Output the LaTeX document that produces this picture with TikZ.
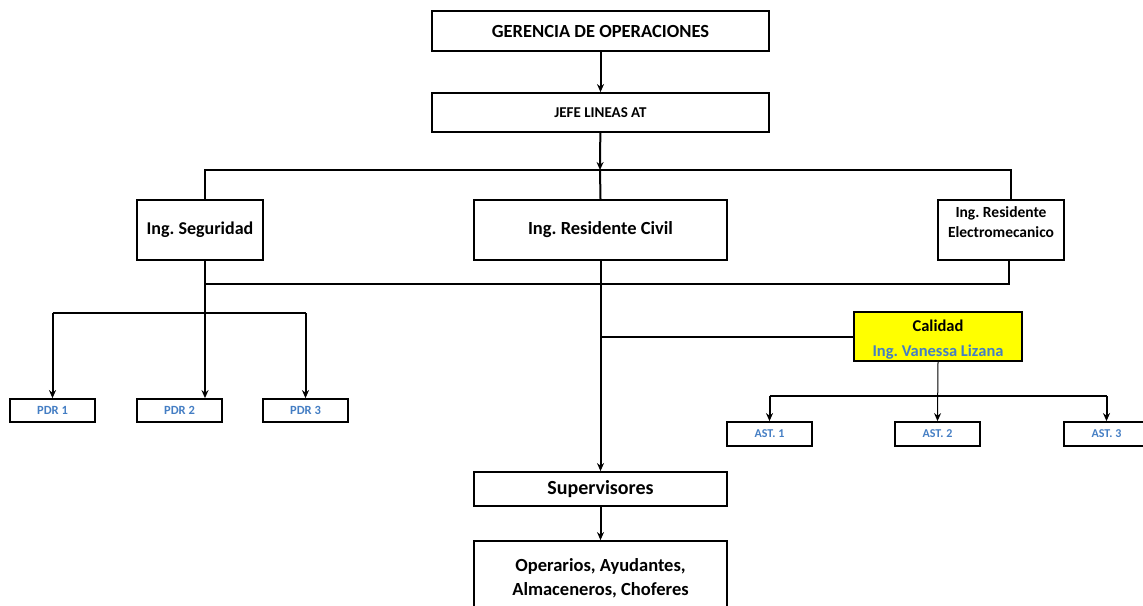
\documentclass[tikz,border=0pt]{standalone}
\usepackage{fontspec}
\setmainfont{Carlito}
\frenchspacing
\usetikzlibrary{arrows.meta}

\definecolor{pdrblue}{RGB}{68,126,196}
\definecolor{calyellow}{RGB}{255,255,0}

\tikzset{
    box/.style={draw, line width=1.8pt, fill=white, inner sep=0pt, align=center, font=\bfseries},
    line/.style={line width=2pt},
    arrow/.style={line width=2pt, -{Stealth[length=8pt,width=7pt]}},
    sz/.style={font=\fontsize{#1}{#1}\selectfont\bfseries}
}

\begin{document}
\begin{tikzpicture}[x=1pt, y=-1pt]

\clip (0,0) rectangle (1143,605);
\useasboundingbox (0,0) rectangle (1143,605);
\fill[white] (0,0) rectangle (1143,605);

% Top
\node[box, sz=18.5, minimum width=337pt, minimum height=40pt] (ger) at (600.5,31) {GERENCIA DE OPERACIONES};
\node[box, sz=15, minimum width=337pt, minimum height=39pt] (jefe) at (600.5,112.5) {JEFE LINEAS AT};

% Second level
\node[box, sz=18, minimum width=126pt, minimum height=60pt] (seg) at (200,230) {Ing. Seguridad};
\node[box, sz=18.5, minimum width=253pt, minimum height=60pt] (civ) at (600.5,230) {Ing. Residente Civil};
\node[box, minimum width=126pt, minimum height=60pt, font=\fontsize{15.5}{20}\selectfont\bfseries] (elec) at (1001,230) {Ing. Residente\\Electromecanico\rule[-16pt]{0pt}{16pt}};

% PDR boxes
\foreach \i/\x in {1/52.5, 2/179.5, 3/305.5} {
    \node[box, sz=12.5, text=pdrblue, minimum width=85pt, minimum height=23pt] (pdr\i) at (\x,410.5) {PDR \i};
}

% Calidad
\node[box, fill=calyellow, minimum width=168pt, minimum height=49pt, font=\fontsize{16.5}{25}\selectfont\bfseries] (cal) at (938,336.5) {\rule{0pt}{18pt}Calidad\\\textcolor{pdrblue}{Ing. Vanessa Lizana}};

% AST boxes
\foreach \i/\x in {1/769.5, 2/937.5, 3/1106.5} {
    \node[box, sz=12, text=pdrblue, minimum width=85pt, minimum height=24pt] (ast\i) at (\x,434) {AST. \i};
}

% Bottom
\node[box, sz=20, minimum width=253pt, minimum height=34pt] (sup) at (600.5,489) {Supervisores};
\node[box, minimum width=253pt, minimum height=74pt, font=\fontsize{18.5}{24}\selectfont\bfseries] (ope) at (600.5,578) {Operarios, Ayudantes,\\Almaceneros, Choferes};

% Junction points
\coordinate (barT) at (600,170);
\coordinate (mid) at (205,284);
\coordinate (pdrbar) at (205,313);
\coordinate (astbar) at (938,396);

% Connectors
\draw[arrow] (ger) -- (jefe);
\draw[arrow] (jefe) -- (barT);
\draw[line] ([xshift=5pt]seg.north) |- (barT) -| ([xshift=10pt]elec.north);
\draw[line] (barT) -- (civ.north);

\draw[line] ([xshift=8pt]elec.south) |- (mid);
\draw[arrow] ([xshift=5pt]seg.south) -- ([xshift=5pt]seg.south |- pdr2.north);
\draw[line] (pdr1.north |- pdrbar) -- (pdr3.north |- pdrbar);
\draw[arrow] (pdr1.north |- pdrbar) -- (pdr1.north);
\draw[arrow] (pdr3.north |- pdrbar) -- (pdr3.north);

\draw[arrow] (civ.south) -- (sup.north);
\draw[line] (civ.south |- cal.west) -- (cal.west);
\draw[arrow] (sup) -- (ope);

\draw[line width=1pt, -{Stealth[length=8pt,width=7pt]}] (cal.south) -- (ast2.north);
\draw[line] (ast1.north |- astbar) -- (ast3.north |- astbar);
\draw[arrow] (ast1.north |- astbar) -- (ast1.north);
\draw[arrow] (ast3.north |- astbar) -- (ast3.north);

\end{tikzpicture}
\end{document}
